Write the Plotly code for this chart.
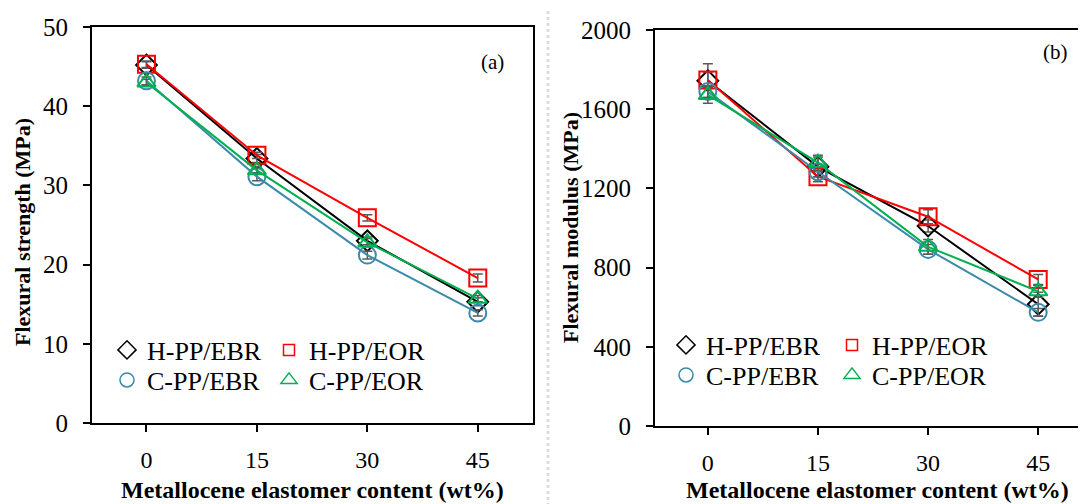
import plotly.graph_objects as go

content = [0, 15, 30, 45]
x_ticks = [0, 15, 30, 45]

series_names = ["H-PP/EBR", "H-PP/EOR", "C-PP/EBR", "C-PP/EOR"]

# Panel (a): flexural strength (MPa)
strength_h_ebr = [45.2, 33.4, 23.0, 15.3]
strength_h_eor = [45.3, 33.8, 25.9, 18.3]
strength_c_ebr = [43.2, 31.1, 21.2, 13.9]
strength_c_eor = [43.0, 31.9, 22.8, 15.7]
strength_err_h_ebr = [0.4, 0.5, 0.5, 0.5]
strength_err_h_eor = [0.4, 0.4, 0.4, 0.5]
strength_err_c_ebr = [0.5, 0.5, 0.5, 0.4]
strength_err_c_eor = [0.4, 0.5, 0.5, 0.4]

# Panel (b): flexural modulus (MPa)
modulus_h_ebr = [1744, 1309, 1010, 615]
modulus_h_eor = [1748, 1259, 1057, 740]
modulus_c_ebr = [1689, 1284, 892, 574]
modulus_c_eor = [1672, 1330, 905, 680]
modulus_err_h_ebr = [85, 50, 30, 60]
modulus_err_h_eor = [40, 25, 35, 25]
modulus_err_c_ebr = [30, 25, 25, 20]
modulus_err_c_eor = [42, 38, 37, 30]

colors = ["#000000", "#FF0000", "#3A8BAA", "#00B050"]
symbols = ["diamond-open", "square-open", "circle-open", "triangle-up-open"]
sizes = [16, 17, 17, 16]

FONT = "Liberation Serif"
ERRC = "#5a5a5a"

fig = go.Figure()

panel_a = [strength_h_ebr, strength_h_eor, strength_c_ebr, strength_c_eor]
panel_a_err = [strength_err_h_ebr, strength_err_h_eor, strength_err_c_ebr, strength_err_c_eor]
panel_b = [modulus_h_ebr, modulus_h_eor, modulus_c_ebr, modulus_c_eor]
panel_b_err = [modulus_err_h_ebr, modulus_err_h_eor, modulus_err_c_ebr, modulus_err_c_eor]

for i in range(4):
    fig.add_trace(go.Scatter(
        x=content, y=panel_a[i], mode="lines+markers", name=series_names[i],
        line=dict(color=colors[i], width=2),
        marker=dict(symbol=symbols[i], size=sizes[i], color=colors[i], line=dict(width=2)),
        error_y=dict(type="data", array=panel_a_err[i], color=ERRC, thickness=1.5, width=5),
        showlegend=False, xaxis="x", yaxis="y"))
for i in range(4):
    fig.add_trace(go.Scatter(
        x=content, y=panel_b[i], mode="lines+markers", name=series_names[i],
        line=dict(color=colors[i], width=2),
        marker=dict(symbol=symbols[i], size=sizes[i], color=colors[i], line=dict(width=2)),
        error_y=dict(type="data", array=panel_b_err[i], color=ERRC, thickness=1.5, width=5),
        showlegend=False, xaxis="x2", yaxis="y2"))

W, H = 1086, 504
OFF = 8  # page body margin
def px(x):
    return (x - OFF) / W
def py(y):
    return 1 - (y - OFF) / H

# one legend per entry so the 2x2 grid matches the reference
# (panel, series index, marker centre x, row centre y)
legend_slots = [
    (0, 0, 128, 350), (0, 1, 290, 350), (0, 2, 128, 380), (0, 3, 290, 380),
    (1, 0, 687, 345), (1, 1, 853, 345), (1, 2, 687, 375), (1, 3, 853, 375),
]
legend_layout = {}
for k, (p, s, mx, my) in enumerate(legend_slots):
    lname = "legend" if k == 0 else f"legend{k + 1}"
    fig.add_trace(go.Scatter(
        x=[None], y=[None], mode="markers", name=series_names[s],
        marker=dict(symbol=symbols[s], size=14 if s != 1 else 11,
                    color=colors[s], line=dict(width=1.5)),
        showlegend=True, legend=lname,
        xaxis="x" if p == 0 else "x2", yaxis="y" if p == 0 else "y2"))
    legend_layout[lname] = dict(
        x=px(mx - 21), y=py(my), xanchor="left", yanchor="middle",
        bgcolor="rgba(0,0,0,0)", font=dict(family=FONT, size=26, color="black"),
        orientation="v", itemwidth=30)

axis_common = dict(showgrid=False, zeroline=False, showline=True, linecolor="black",
                   linewidth=2, ticks="outside", tickcolor="black", ticklen=7, tickwidth=1.5,
                   automargin=False)
xfont = dict(family=FONT, size=24, color="black")
yfont = dict(family=FONT, size=25, color="black")

fig.update_layout(
    template="none",
    width=W, height=H,
    margin=dict(l=0, r=0, t=0, b=0, autoexpand=False),
    plot_bgcolor="white", paper_bgcolor="white",
    xaxis=dict(domain=[px(92), px(533)], range=[-7.4, 52.5], tickvals=x_ticks,
               tickfont=xfont, ticklabelstandoff=7, mirror=True, anchor="y", **axis_common),
    yaxis=dict(domain=[py(423), py(27)], range=[0, 50], tickvals=[0, 10, 20, 30, 40, 50],
               tickfont=yfont, ticklabelstandoff=10, mirror=True, anchor="x", **axis_common),
    xaxis2=dict(domain=[px(655), 1.0], range=[-7.2, 52.6], tickvals=x_ticks,
                tickfont=xfont, ticklabelstandoff=7, mirror=True, anchor="y2", **axis_common),
    yaxis2=dict(domain=[py(426), py(30)], range=[0, 2000],
                tickvals=[0, 400, 800, 1200, 1600, 2000],
                tickfont=yfont, ticklabelstandoff=10, mirror=False, anchor="x2", **axis_common),
    **legend_layout,
)

def ann(text, x, y, size, angle=0):
    fig.add_annotation(text=text, x=px(x), y=py(y), xref="paper", yref="paper",
                       xanchor="center", yanchor="middle", textangle=angle,
                       showarrow=False, font=dict(family=FONT, size=size, color="black"))

ann("<b>Flexural strength (MPa)</b>", 22, 232, 22, -90)
ann("<b>Flexural modulus (MPa)</b>", 570, 228, 22, -90)
ann("<b>Metallocene elastomer content (wt%)</b>", 312, 490, 24)
ann("<b>Metallocene elastomer content (wt%)</b>", 877, 490, 24)
ann("(a)", 492, 62, 21)
ann("(b)", 1055, 52, 21)

fig.add_shape(type="line", xref="paper", yref="paper", x0=px(548), x1=px(548), y0=0, y1=1,
              line=dict(color="#dddddd", width=3, dash="dot"))

fig.write_html("out.html")
